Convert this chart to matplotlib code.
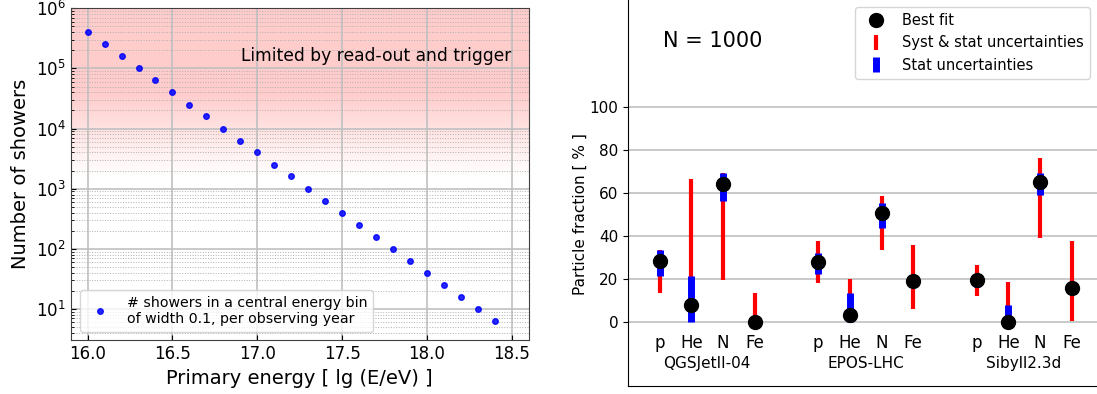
import numpy as np
import matplotlib
matplotlib.use('Agg')
import matplotlib.pyplot as plt

# ---- left panel data: showers per observing year in 0.1 wide bins
energy = [16.0, 16.1, 16.2, 16.3, 16.4, 16.5, 16.6, 16.7, 16.8, 16.9,
          17.0, 17.1, 17.2, 17.3, 17.4, 17.5, 17.6, 17.7, 17.8, 17.9,
          18.0, 18.1, 18.2, 18.3, 18.4]
n_showers = [4.0e5, 2.5e5, 1.6e5, 1.0e5, 6.3e4, 4.0e4, 2.5e4, 1.6e4, 1.0e4, 6.3e3,
             4.0e3, 2.5e3, 1.6e3, 1.0e3, 630, 400, 250, 160, 100, 63,
             40, 25, 16, 10, 6.3]

# ---- right panel data: composition fit, N = 1000
models = ['QGSJetII-04', 'EPOS-LHC', 'Sibyll2.3d']
species = ['p', 'He', 'N', 'Fe']
best_fit = [[28.2, 7.7, 64.0, 0.0],
            [28.0, 3.3, 50.5, 18.9],
            [19.5, 0.0, 65.3, 15.5]]
stat_lo = [[21.4, 0.0, 56.5, 0.0],
           [22.3, 0.0, 43.7, 18.9],
           [16.0, 0.0, 59.0, 15.5]]
stat_hi = [[33.6, 21.4, 69.5, 0.0],
           [31.9, 13.3, 55.4, 18.9],
           [21.5, 7.6, 69.3, 15.5]]
syst_lo = [[13.5, 0.0, 19.3, 0.0],
           [18.0, 0.0, 33.3, 5.9],
           [12.2, 0.0, 39.2, 0.5]]
syst_hi = [[33.6, 66.4, 69.5, 13.5],
           [37.8, 20.1, 58.4, 35.8],
           [26.3, 18.7, 76.3, 37.6]]

fig = plt.figure(figsize=(10.97, 3.94), dpi=100)

# ================= left panel =================
ax1 = fig.add_axes([0.0644, 0.136, 0.4176, 0.843])
ax1.set_yscale('log')
ax1.set_xlim(15.9, 18.6)
ax1.set_ylim(3, 1e6)

# pink band, fading out below ~1e4
top_col = np.array([1.0, 0.8, 0.8])
edges = np.logspace(np.log10(1.5e3), 6, 120)
for lo, hi in zip(edges[:-1], edges[1:]):
    mid = np.log10(np.sqrt(lo * hi))
    a = np.clip((mid - 3.2) / (4.6 - 3.2), 0, 1)
    ax1.axhspan(lo, hi, color=top_col, alpha=a, lw=0, zorder=0)

ax1.grid(which='major', color='#c0c0c0', lw=1.2, zorder=1)
ax1.grid(which='minor', axis='y', color='#b0b0b0', lw=0.7, ls=':', zorder=1)
ax1.set_axisbelow(True)

ax1.plot(energy, n_showers, 'o', color='blue', ms=4, alpha=0.85, zorder=3,
         label='# showers in a central energy bin\nof width 0.1, per observing year')
ax1.text(18.5, 1.6e5, 'Limited by read-out and trigger', ha='right', va='center',
         fontsize=12.3)

ax1.set_xticks([16.0, 16.5, 17.0, 17.5, 18.0, 18.5])
ax1.set_xticklabels(['16.0', '16.5', '17.0', '17.5', '18.0', '18.5'])
ax1.tick_params(which='both', labelsize=12, direction='in')
ax1.set_xlabel('Primary energy [ lg (E/eV) ]', fontsize=14)
ax1.set_ylabel('Number of showers', fontsize=14)
ax1.legend(loc='lower left', fontsize=10.2, framealpha=0.8, handletextpad=0.9,
           bbox_to_anchor=(0.005, 0.005))
for s in ax1.spines.values():
    s.set_color('#404040')

# ================= right panel =================
ax2 = fig.add_axes([0.5725, 0.0203, 0.4275, 0.9797])
ax2.set_xlim(-1, 13.8)
ax2.set_ylim(-30, 150)
ax2.spines['top'].set_visible(False)
ax2.spines['right'].set_visible(False)
ax2.set_yticks([0, 20, 40, 60, 80, 100])
ax2.set_xticks([])
ax2.tick_params(labelsize=11)
ax2.grid(axis='y', color='#c0c0c0', lw=1.2)
ax2.set_axisbelow(True)
ax2.set_ylabel('Particle fraction [ % ]', fontsize=11)
ax2.yaxis.set_label_coords(-0.085, 80 / 180)

for m, model in enumerate(models):
    xs = np.arange(4) + 5 * m
    bf = np.array(best_fit[m])
    red_err = [bf - np.array(syst_lo[m]), np.array(syst_hi[m]) - bf]
    blue_err = [bf - np.array(stat_lo[m]), np.array(stat_hi[m]) - bf]
    ax2.errorbar(xs, bf, yerr=red_err, fmt='none', ecolor='red', elinewidth=3,
                 capsize=0, zorder=3, label='Syst & stat uncertainties' if m == 0 else None)
    ax2.errorbar(xs, bf, yerr=blue_err, fmt='none', ecolor='blue', elinewidth=5,
                 capsize=0, zorder=4, label='Stat uncertainties' if m == 0 else None)
    ax2.plot(xs, bf, 'o', color='black', ms=10, zorder=5,
             label='Best fit' if m == 0 else None)
    for x, sp in zip(xs, species):
        ax2.text(x, -10, sp, ha='center', va='center', fontsize=12)
    ax2.text(xs.mean(), -19.5, model, ha='center', va='center', fontsize=11)

ax2.text(0.1, 131, 'N = 1000', fontsize=15, va='center', ha='left')

handles, labels = ax2.get_legend_handles_labels()
order = [labels.index('Best fit'), labels.index('Syst & stat uncertainties'),
         labels.index('Stat uncertainties')]
ax2.legend([handles[i] for i in order], [labels[i] for i in order],
           loc='upper right', bbox_to_anchor=(1.0, 1.0), fontsize=10.5)

fig.savefig('out.png', dpi=100)
